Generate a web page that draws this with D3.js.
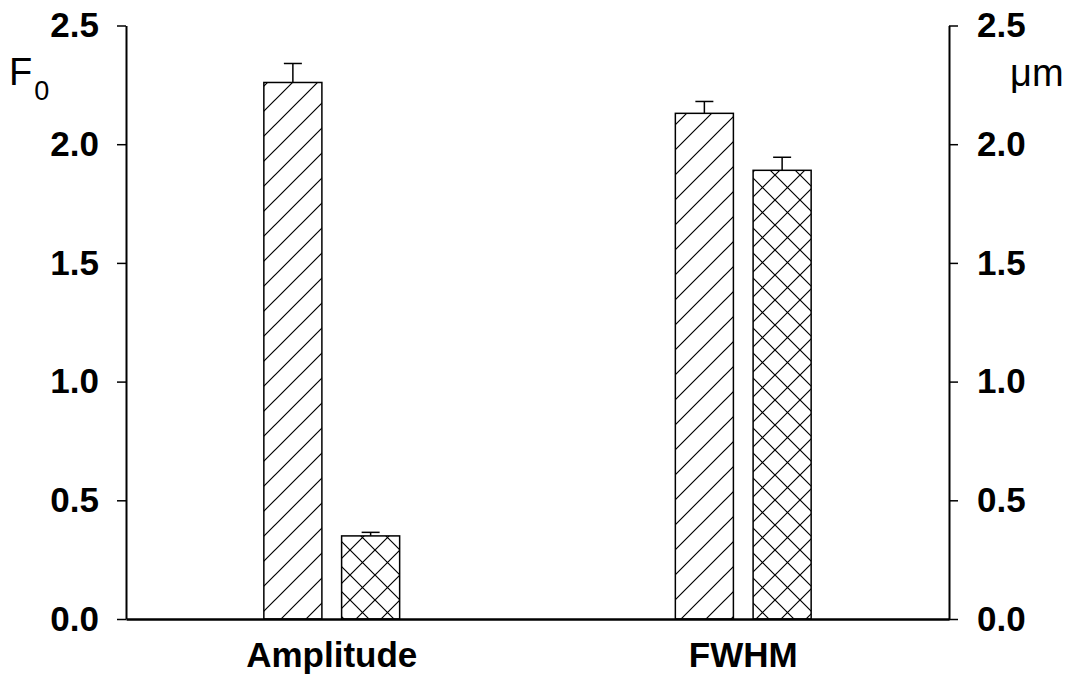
<!DOCTYPE html>
<html>
<head>
<meta charset="utf-8">
<script src="https://cdn.jsdelivr.net/npm/d3@7"></script>
<style>
  html, body { margin: 0; padding: 0; background: #fff; }
  svg { display: block; }
  text { font-family: "Liberation Sans", Arial, sans-serif; fill: #000; }
</style>
</head>
<body>
<svg id="chart" width="1075" height="680"></svg>
<script>
// ---- data ----
const categories = ["Amplitude", "FWHM"];
const seriesNames = ["series1", "series2"];
const amplitudeValues = [2.26, 0.35];
const amplitudeErrors = [0.08, 0.015];
const fwhmValues = [2.13, 1.89];
const fwhmErrors = [0.05, 0.055];
const yTicks = [0, 0.5, 1.0, 1.5, 2.0, 2.5];
const leftAxisLabel = "F";
const leftAxisSub = "0";
const rightAxisLabel = "\u03BCm";

const groups = [
  { cat: categories[0], values: amplitudeValues, errors: amplitudeErrors, axis: "left" },
  { cat: categories[1], values: fwhmValues, errors: fwhmErrors, axis: "right" }
];

// ---- layout ----
const svg = d3.select("#chart");
const xLeft = 126, xRight = 949, yTop = 25.5, yBottom = 619;

const x0 = d3.scaleBand().domain(categories).range([xLeft, xRight]).paddingInner(0).paddingOuter(0);
const x1 = d3.scaleBand().domain(seriesNames).range([-67.9, 67.9]).paddingInner(0.2535).paddingOuter(0);
const yL = d3.scaleLinear().domain([0, 2.5]).range([yBottom, yTop]);
const yR = d3.scaleLinear().domain([0, 2.5]).range([yBottom, yTop]);

// patterns
const defs = svg.append("defs");
const p1 = defs.append("pattern").attr("id", "diag").attr("patternUnits", "userSpaceOnUse")
  .attr("width", 25).attr("height", 25).attr("x", 0).attr("y", 0);
p1.append("rect").attr("width", 25).attr("height", 25).attr("fill", "#fff");
p1.append("path").attr("d", "M0,25 L25,0 M-5,5 L5,-5 M20,30 L30,20")
  .attr("stroke", "#000").attr("stroke-width", 1.2).attr("fill", "none");
const p2 = defs.append("pattern").attr("id", "cross").attr("patternUnits", "userSpaceOnUse")
  .attr("width", 25).attr("height", 25).attr("x", 0).attr("y", 0);
p2.append("rect").attr("width", 25).attr("height", 25).attr("fill", "#fff");
p2.append("path").attr("d", "M0,25 L25,0 M-5,5 L5,-5 M20,30 L30,20 M0,0 L25,25 M-5,20 L5,30 M20,-5 L30,5")
  .attr("stroke", "#000").attr("stroke-width", 1.2).attr("fill", "none");
const fills = ["url(#diag)", "url(#cross)"];

// bars
const g = svg.append("g");
groups.forEach(grp => {
  const y = grp.axis === "left" ? yL : yR;
  const cx = x0(grp.cat) + x0.bandwidth() / 2;
  seriesNames.forEach((s, i) => {
    const bx = cx + x1(s);
    const bw = x1.bandwidth();
    const v = grp.values[i], e = grp.errors[i];
    const mid = bx + bw / 2;
    // error bar (upper only)
    g.append("line").attr("x1", mid).attr("x2", mid).attr("y1", y(v)).attr("y2", y(v + e))
      .attr("stroke", "#000").attr("stroke-width", 1.5);
    g.append("line").attr("x1", mid - 9).attr("x2", mid + 9).attr("y1", y(v + e)).attr("y2", y(v + e))
      .attr("stroke", "#000").attr("stroke-width", 1.5);
    g.append("rect").attr("x", bx).attr("y", y(v)).attr("width", bw).attr("height", y(0) - y(v))
      .attr("fill", fills[i]).attr("stroke", "#000").attr("stroke-width", 1.5);
  });
});

// axes
const fmt = d3.format(".1f");
const axL = svg.append("g").attr("transform", `translate(${xLeft},0)`)
  .call(d3.axisLeft(yL).tickValues(yTicks).tickFormat(fmt).tickSize(9).tickSizeOuter(0).tickPadding(18));
const axR = svg.append("g").attr("transform", `translate(${xRight},0)`)
  .call(d3.axisRight(yR).tickValues(yTicks).tickFormat(fmt).tickSize(9).tickSizeOuter(0).tickPadding(19));
[axL, axR].forEach(a => {
  a.select(".domain").attr("stroke", "#000").attr("stroke-width", 2);
  a.selectAll(".tick line").attr("stroke", "#000").attr("stroke-width", 1.5);
  a.selectAll(".tick text").attr("font-family", "Liberation Sans, Arial, sans-serif")
    .attr("font-size", 35).attr("font-weight", "bold").attr("fill", "#000");
});

const axB = svg.append("g").attr("transform", `translate(0,${yBottom})`)
  .call(d3.axisBottom(x0).tickSize(0).tickSizeOuter(0).tickPadding(23));
axB.select(".domain").attr("stroke", "#000").attr("stroke-width", 2.5);
axB.selectAll(".tick text").attr("font-family", "Liberation Sans, Arial, sans-serif")
  .attr("font-size", 35).attr("font-weight", "bold").attr("fill", "#000");

// axis titles
const lt = svg.append("text").attr("x", 9).attr("y", 85).attr("font-size", 38);
lt.append("tspan").text(leftAxisLabel);
lt.append("tspan").attr("font-size", 27).attr("dy", 15).attr("dx", 2).text(leftAxisSub);
svg.append("text").attr("x", 1010).attr("y", 86).attr("font-size", 38).text(rightAxisLabel);
</script>
</body>
</html>
